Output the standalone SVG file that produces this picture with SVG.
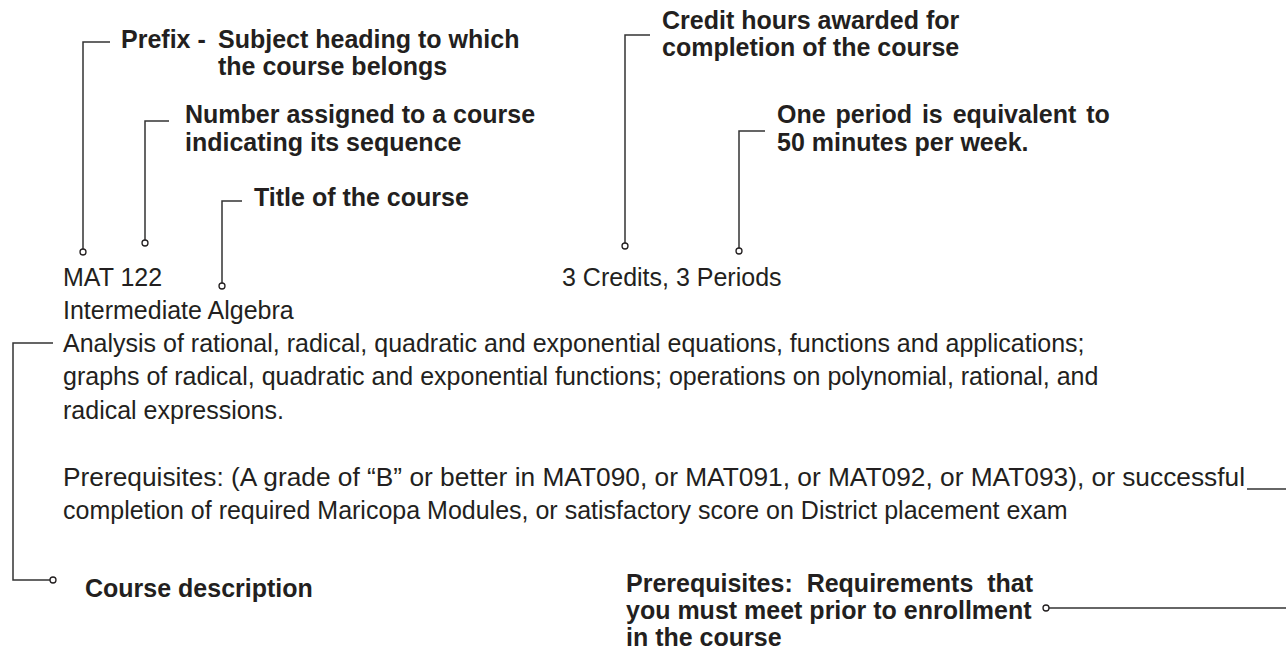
<svg xmlns="http://www.w3.org/2000/svg" width="1286" height="652" viewBox="0 0 1286 652">
<style>
text{font-family:"Liberation Sans",Arial,sans-serif;fill:#231f20;font-size:25px}
.b{font-weight:bold}
.ln{fill:none;stroke:#333;stroke-width:1.5}
.dot{fill:#fff;stroke:#231f20;stroke-width:1.3}
</style>
<rect width="1286" height="652" fill="#fff"/>
<g id="connectors">
<polyline class="ln" points="110,42 83,42 83,249"/>
<circle class="dot" cx="83" cy="252" r="3"/>
<polyline class="ln" points="169,121 145,121 145,240"/>
<circle class="dot" cx="145" cy="243" r="3"/>
<polyline class="ln" points="242,201 222,201 222,283"/>
<circle class="dot" cx="222" cy="286" r="3"/>
<polyline class="ln" points="650,35 625,35 625,243"/>
<circle class="dot" cx="625" cy="246" r="3"/>
<polyline class="ln" points="765,131 739,131 739,248"/>
<circle class="dot" cx="739" cy="251" r="3"/>
<polyline class="ln" points="53,343 13,343 13,580 50,580"/>
<circle class="dot" cx="53" cy="580" r="3"/>
<line class="ln" x1="1247" y1="489" x2="1286" y2="489"/>
<line class="ln" x1="1049" y1="608" x2="1286" y2="608"/>
<circle class="dot" cx="1046" cy="608" r="3"/>
</g>
<g id="prefix-label">
<text class="b" x="121" y="48">Prefix -</text>
<text class="b" x="218" y="48">Subject heading to which</text>
<text class="b" x="218" y="75">the course belongs</text>
</g>
<g id="number-label">
<text class="b" x="185" y="123">Number assigned to a course</text>
<text class="b" x="185" y="151">indicating its sequence</text>
</g>
<g id="title-label">
<text class="b" x="254" y="206">Title of the course</text>
</g>
<g id="credit-label">
<text class="b" x="662" y="29">Credit hours awarded for</text>
<text class="b" x="662" y="56">completion of the course</text>
</g>
<g id="period-label">
<text class="b" x="777" y="123" word-spacing="3">One period is equivalent to</text>
<text class="b" x="777" y="151">50 minutes per week.</text>
</g>
<g id="course-entry">
<text x="63" y="286">MAT 122</text>
<text x="562" y="286">3 Credits, 3 Periods</text>
<text x="63" y="319">Intermediate Algebra</text>
<text x="63" y="352">Analysis of rational, radical, quadratic and exponential equations, functions and applications;</text>
<text x="63" y="385">graphs of radical, quadratic and exponential functions; operations on polynomial, rational, and</text>
<text x="63" y="419">radical expressions.</text>
<text x="63" y="486" textLength="1182" lengthAdjust="spacingAndGlyphs">Prerequisites: (A grade of “B” or better in MAT090, or MAT091, or MAT092, or MAT093), or successful</text>
<text x="63" y="519">completion of required Maricopa Modules, or satisfactory score on District placement exam</text>
</g>
<g id="description-label">
<text class="b" x="85" y="597">Course description</text>
</g>
<g id="prerequisites-label">
<text class="b" x="626" y="592" xml:space="preserve">Prerequisites:  Requirements  that</text>
<text class="b" x="626" y="619">you must meet prior to enrollment</text>
<text class="b" x="626" y="646">in the course</text>
</g>
</svg>
